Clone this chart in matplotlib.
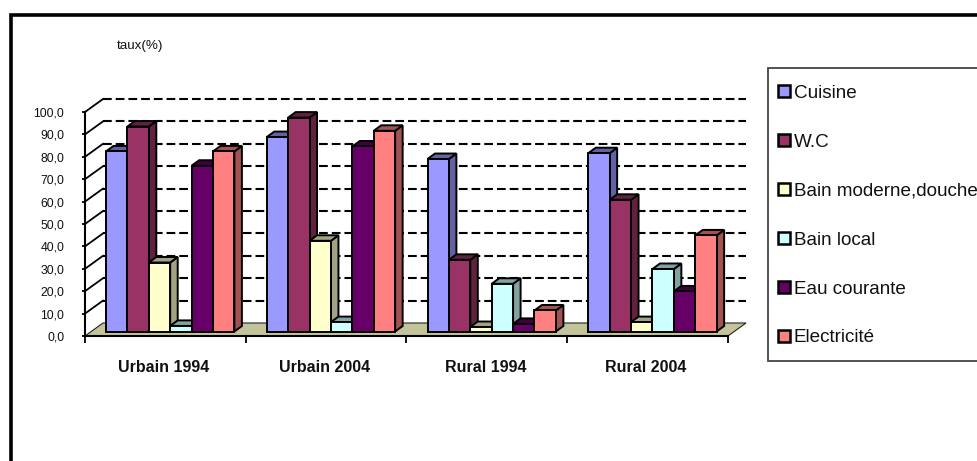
import matplotlib
matplotlib.use("Agg")
import matplotlib.pyplot as plt
from matplotlib.lines import Line2D
from matplotlib.patches import Rectangle
from matplotlib.colors import to_rgb

groups = ["Urbain 1994", "Urbain 2004", "Rural 1994", "Rural 2004"]
series = ["Cuisine", "W.C", "Bain moderne,douche", "Bain local", "Eau courante", "Electricité"]
cuisine = [80.4, 86.8, 77.0, 79.6]
wc = [91.5, 95.5, 32.0, 58.8]
bain_moderne = [30.8, 40.5, 2.0, 4.2]
bain_local = [2.5, 4.2, 21.3, 27.9]
eau = [74.0, 82.6, 3.4, 17.9]
electricite = [80.4, 89.6, 9.4, 42.9]
values = [cuisine, wc, bain_moderne, bain_local, eau, electricite]
colors = ["#9999FF", "#993366", "#FFFFCC", "#CCFFFF", "#660066", "#FF8080"]
yticks = list(range(0, 101, 10))

W, H = 978, 461
plt.rcParams["font.family"] = ["Liberation Sans", "DejaVu Sans"]
fig = plt.figure(figsize=(W / 100, H / 100), dpi=100, facecolor="white")
L, R, T, B = 85, 728, 112, 336
ax = fig.add_axes([L / W, 1 - B / H, (R - L) / W, (B - T) / H])
ax.set_xlim(0, 4)
ax.set_ylim(0, 100)
ax.patch.set_visible(False)
ux = (R - L) / 4
uy = (B - T) / 100

# depth of the plot box and of the bars, in data units
wall_dx, wall_dy = 18 / ux, 13 / uy
bar_dx, bar_dy = 7.5 / ux, 5.5 / uy
base_dx, base_dy = 5 / ux, 4.5 / uy
bar_w = 21.4 / ux
gap = 16 / ux

for s in ("top", "right"):
    ax.spines[s].set_visible(False)
for s in ("left", "bottom"):
    ax.spines[s].set_linewidth(1.5)
    ax.spines[s].set_zorder(50)

ax.fill([0, 4, 4 + wall_dx, wall_dx], [0, 0, wall_dy, wall_dy],
        facecolor="#C4C49A", edgecolor="#222222", linewidth=0.8, zorder=1, clip_on=False)
for v in yticks[1:]:
    ax.plot([wall_dx, 4 + wall_dx], [v + wall_dy] * 2, color="black", lw=1.5,
            dashes=(4.2, 1.9), zorder=1.5, clip_on=False)
    ax.plot([0, wall_dx], [v, v + wall_dy], color="black", lw=1.3, zorder=1.5, clip_on=False)


def shade(c, f):
    return tuple(x * f for x in to_rgb(c))


handles = []
z = 2
for g in range(len(groups)):
    for i, name in enumerate(series):
        v = values[i][g]
        x0 = g + gap + base_dx + i * bar_w
        x1 = x0 + bar_w
        y0 = base_dy
        y1 = base_dy + v
        ek = dict(edgecolor="black", linewidth=1.4, clip_on=False)
        ax.fill([x1, x1 + bar_dx, x1 + bar_dx, x1], [y0, y0 + bar_dy, y1 + bar_dy, y1],
                facecolor=shade(colors[i], 0.64), zorder=z, **ek)
        ax.fill([x0, x1, x1 + bar_dx, x0 + bar_dx], [y1, y1, y1 + bar_dy, y1 + bar_dy],
                facecolor=shade(colors[i], 0.64), zorder=z, **ek)
        b = ax.bar(x0, v, bottom=y0, width=bar_w, align="edge", facecolor=colors[i],
                   zorder=z + 0.1, label=name if g == 0 else None, **ek)
        if g == 0:
            handles.append(b[0])
        z += 1

ax.set_yticks(yticks)
ax.set_yticklabels([f"{v:.1f}".replace(".", ",") for v in yticks], fontsize=8.8, color="#111111")
ax.tick_params(axis="y", length=2, width=1.3, pad=13, zorder=60)
ax.set_xticks(range(5))
ax.set_xticklabels([])
ax.tick_params(axis="x", which="major", length=5, width=1.3)
ax.set_xticks([g + 0.49 for g in range(4)], minor=True)
ax.set_xticklabels(groups, minor=True, fontsize=11.5, fontweight="bold", color="#111111")
ax.tick_params(axis="x", which="minor", length=0, pad=17)

fig.text(117 / W, 1 - 46 / H, "taux(%)", fontsize=9.6, va="center", ha="left", color="#111111")

# legend box runs past the right edge of the picture
fig.add_artist(Rectangle((768 / W, 1 - 361.5 / H), 230 / W, 293.5 / H, transform=fig.transFigure,
                         facecolor="white", edgecolor="#444444", linewidth=1.3, zorder=-1))
leg = ax.legend(handles=handles, labels=series, loc="upper left",
                bbox_to_anchor=(767 / W, 1 - 73.5 / H), bbox_transform=fig.transFigure,
                fontsize=13.6, frameon=False, borderaxespad=0, borderpad=0.6,
                labelspacing=1.69, handlelength=0.62, handleheight=0.62,
                handletextpad=0.2, labelcolor="#111111")
leg.set_zorder(100)
for h in leg.legend_handles:
    h.set_linewidth(1.8)

# outer frame
fig.add_artist(Line2D([11 / W, 11 / W, 978 / W], [0, 1 - 15.5 / H, 1 - 15.5 / H],
                      color="black", lw=2.6, solid_joinstyle="miter"))

fig.savefig("out.png", dpi=100)
